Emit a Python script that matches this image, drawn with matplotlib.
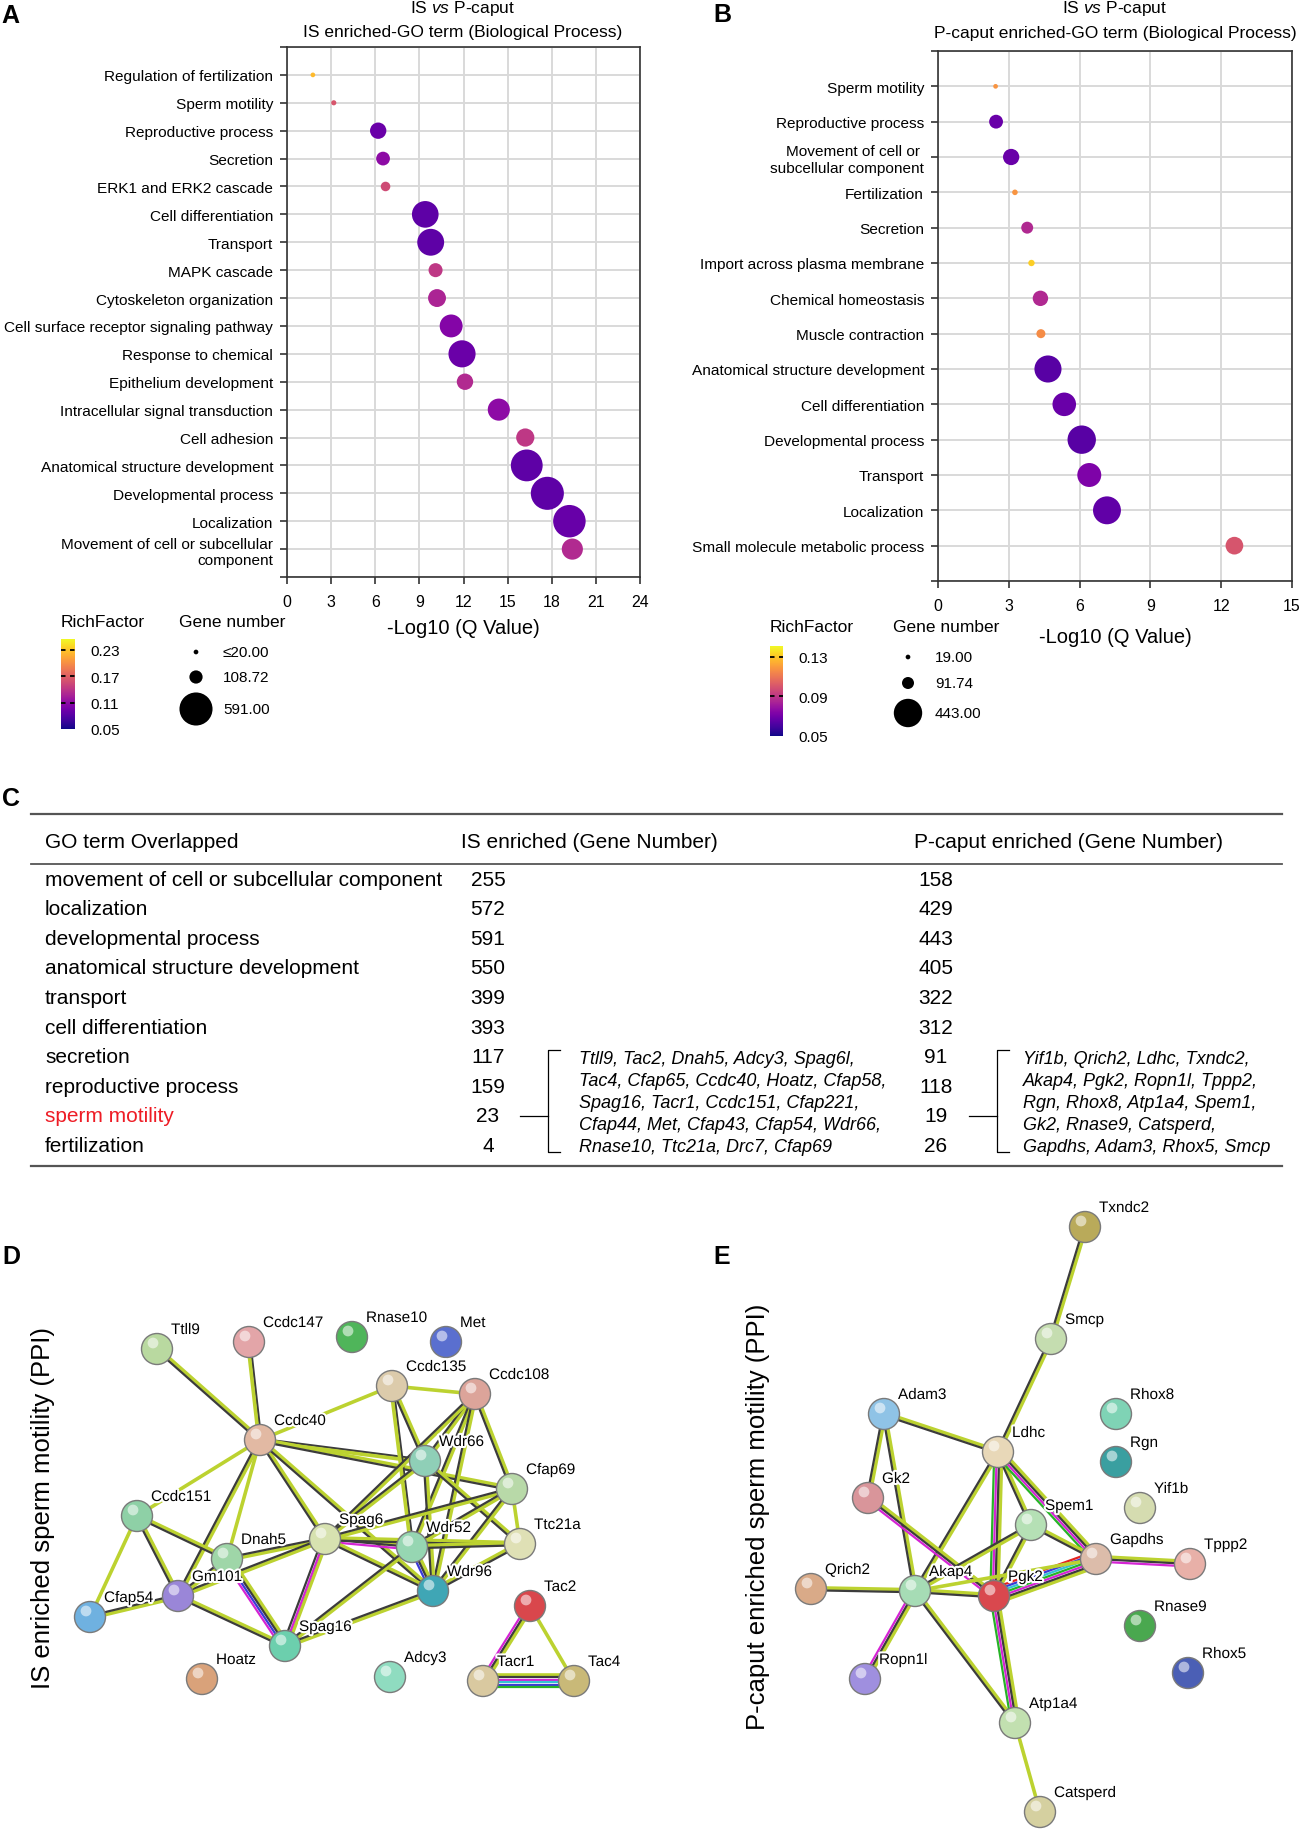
import numpy as np
import matplotlib
matplotlib.use("Agg")
import matplotlib.pyplot as plt
import matplotlib.colors as mcolors
import matplotlib.colorbar as mcolorbar
import matplotlib.patheffects as pe

plt.rcParams['font.family'] = ['Liberation Sans', 'DejaVu Sans']
plt.rcParams['mathtext.fontset'] = 'custom'
plt.rcParams['mathtext.rm'] = 'Liberation Sans'
plt.rcParams['mathtext.it'] = 'Liberation Sans:italic'

W, H = 1299, 1831
DPI = 100

# ---- panel A : IS enriched GO terms
a_terms = ["Regulation of fertilization", "Sperm motility", "Reproductive process", "Secretion",
           "ERK1 and ERK2 cascade", "Cell differentiation", "Transport", "MAPK cascade",
           "Cytoskeleton organization", "Cell surface receptor signaling pathway", "Response to chemical",
           "Epithelium development", "Intracellular signal transduction", "Cell adhesion",
           "Anatomical structure development", "Developmental process", "Localization",
           "Movement of cell or subcellular\ncomponent"]
a_q = [1.76, 3.18, 6.2, 6.53, 6.7, 9.4, 9.77, 10.1, 10.2, 11.16, 11.9, 12.1, 14.4, 16.2, 16.3, 17.7, 19.2, 19.4]
a_genes = [4, 23, 159, 117, 62, 393, 399, 121, 188, 296, 406, 160, 277, 194, 550, 591, 572, 255]
a_rich = [0.224, 0.163, 0.091, 0.11, 0.155, 0.085, 0.085, 0.142, 0.128, 0.105, 0.091, 0.132, 0.11, 0.142,
          0.085, 0.085, 0.09, 0.132]
a_cbar_ticks = [0.05, 0.11, 0.17, 0.23]
a_leg_vals = [20, 108.72, 591.0]
a_leg_labels = ["≤20.00", "108.72", "591.00"]

# ---- panel B : P-caput enriched GO terms
b_terms = ["Sperm motility", "Reproductive process", "Movement of cell or \nsubcellular component",
           "Fertilization", "Secretion", "Import across plasma membrane", "Chemical homeostasis",
           "Muscle contraction", "Anatomical structure development", "Cell differentiation",
           "Developmental process", "Transport", "Localization", "Small molecule metabolic process"]
b_q = [2.44, 2.46, 3.1, 3.26, 3.78, 3.96, 4.34, 4.36, 4.66, 5.35, 6.09, 6.41, 7.16, 12.56]
b_genes = [19, 118, 158, 26, 91, 32, 143, 56, 405, 312, 443, 322, 429, 184]
b_rich = [0.118, 0.068, 0.068, 0.118, 0.086, 0.132, 0.086, 0.116, 0.064, 0.068, 0.064, 0.073, 0.066, 0.100]
b_cbar_ticks = [0.05, 0.09, 0.13]
b_leg_vals = [19, 91.74, 443.0]
b_leg_labels = ["19.00", "91.74", "443.00"]

# ---- panel C : overlapped GO terms table
c_terms = ["movement of cell or subcellular component", "localization", "developmental process",
           "anatomical structure development", "transport", "cell differentiation", "secretion",
           "reproductive process", "sperm motility", "fertilization"]
c_is = [255, 572, 591, 550, 399, 393, 117, 159, 23, 4]
c_pc = [158, 429, 443, 405, 322, 312, 91, 118, 19, 26]
c_is_genes = ["Ttll9, Tac2, Dnah5, Adcy3, Spag6l,",
              "Tac4, Cfap65, Ccdc40, Hoatz, Cfap58,",
              "Spag16, Tacr1, Ccdc151, Cfap221,",
              "Cfap44, Met, Cfap43, Cfap54, Wdr66,",
              "Rnase10, Ttc21a, Drc7, Cfap69"]
c_pc_genes = ["Yif1b, Qrich2, Ldhc, Txndc2,",
              "Akap4, Pgk2, Ropn1l, Tppp2,",
              "Rgn, Rhox8, Atp1a4, Spem1,",
              "Gk2, Rnase9, Catsperd,",
              "Gapdhs, Adam3, Rhox5, Smcp"]

# ---- panel D : IS sperm motility PPI network (layout)
d_names = ["Ttll9", "Ccdc147", "Rnase10", "Met", "Ccdc135", "Ccdc108", "Ccdc40", "Wdr66", "Cfap69",
           "Ccdc151", "Spag6", "Wdr52", "Ttc21a", "Dnah5", "Gm101", "Wdr96", "Tac2", "Cfap54",
           "Spag16", "Hoatz", "Adcy3", "Tacr1", "Tac4"]
d_x = [157, 249, 352, 446, 392, 475, 260, 425, 512, 137, 325, 412, 520, 227, 178, 433, 530, 90, 285, 202, 390, 483, 574]
d_y = [1350, 1343, 1338, 1343, 1387, 1395, 1441, 1462, 1490, 1517, 1540, 1548, 1545, 1560, 1597, 1592, 1607,
       1618, 1647, 1680, 1678, 1682, 1682]
d_cols = ["#b9d9a0", "#e3a5a8", "#4fb55a", "#5a6fcf", "#dccbab", "#dca49a", "#e2b9a3", "#8fcfb7", "#b8d9a8",
          "#8ed0a6", "#d7e2b0", "#96d6b2", "#dfe0b5", "#9fd6a8", "#9a86d8", "#3fa6b5", "#d9474c", "#6fb1e0",
          "#6ccfad", "#d9a27a", "#8fdcc0", "#d9c9a0", "#c9b978"]
d_edges = [("Ttll9", "Ccdc40", "tk"), ("Ccdc147", "Ccdc40", "kt"), ("Ccdc40", "Ccdc135", "t"),
           ("Ccdc135", "Ccdc108", "t"), ("Ccdc40", "Wdr66", "kt"), ("Ccdc40", "Cfap69", "tk"),
           ("Ccdc40", "Ccdc151", "t"), ("Ccdc40", "Dnah5", "t"), ("Ccdc40", "Gm101", "tk"),
           ("Ccdc40", "Spag6", "tk"), ("Ccdc40", "Wdr96", "tk"), ("Ccdc135", "Wdr52", "kt"),
           ("Ccdc135", "Wdr66", "tk"), ("Ccdc108", "Wdr66", "tk"), ("Ccdc108", "Wdr52", "tk"),
           ("Ccdc108", "Wdr96", "tk"), ("Ccdc108", "Cfap69", "tk"), ("Ccdc108", "Spag6", "tk"),
           ("Wdr66", "Ttc21a", "tk"), ("Wdr66", "Wdr96", "tk"), ("Wdr66", "Spag6", "tk"),
           ("Cfap69", "Ttc21a", "t"), ("Cfap69", "Spag6", "tk"), ("Cfap69", "Wdr52", "tk"),
           ("Cfap69", "Wdr96", "tk"), ("Ccdc151", "Dnah5", "tk"), ("Ccdc151", "Gm101", "tk"),
           ("Ccdc151", "Cfap54", "t"), ("Spag6", "Dnah5", "tk"), ("Spag6", "Gm101", "tk"),
           ("Spag6", "Wdr52", "tkm"), ("Spag6", "Wdr96", "tk"), ("Spag6", "Spag16", "tmk"),
           ("Spag6", "Ttc21a", "tk"), ("Dnah5", "Gm101", "tk"), ("Dnah5", "Spag16", "tkbm"),
           ("Gm101", "Cfap54", "tk"), ("Gm101", "Spag16", "tk"), ("Wdr52", "Wdr96", "tkb"),
           ("Wdr52", "Ttc21a", "tk"), ("Wdr52", "Spag16", "tk"), ("Wdr96", "Spag16", "tk"),
           ("Wdr96", "Ttc21a", "tk"), ("Tac2", "Tacr1", "tkm"), ("Tac2", "Tac4", "t"),
           ("Tacr1", "Tac4", "tkmcbg")]

# ---- panel E : P-caput sperm motility PPI network
e_names = ["Txndc2", "Smcp", "Adam3", "Ldhc", "Rhox8", "Rgn", "Gk2", "Yif1b", "Spem1", "Gapdhs", "Tppp2",
           "Qrich2", "Akap4", "Pgk2", "Rnase9", "Ropn1l", "Rhox5", "Atp1a4", "Catsperd"]
e_x = [1085, 1051, 884, 998, 1116, 1116, 868, 1140, 1031, 1096, 1190, 811, 915, 994, 1140, 865, 1188, 1015, 1040]
e_y = [1228, 1340, 1415, 1453, 1415, 1463, 1499, 1509, 1526, 1560, 1565, 1590, 1592, 1597, 1627, 1680, 1674,
       1724, 1813]
e_cols = ["#b9aa5a", "#c5ddb0", "#8fc3e6", "#e8d8b8", "#7fd3b5", "#3a9fa0", "#d9959a", "#d5dcb0", "#b5e0b5",
          "#dcbcaa", "#e8b0a8", "#d9aa88", "#a6dcb5", "#d9484e", "#4aa84f", "#9f8fdf", "#4b5fb5", "#c2e0b0",
          "#d5d0a0"]
e_edges = [("Txndc2", "Smcp", "tk"), ("Smcp", "Ldhc", "tk"), ("Adam3", "Ldhc", "tk"), ("Adam3", "Gk2", "tk"),
           ("Adam3", "Akap4", "tk"), ("Ldhc", "Akap4", "tk"), ("Ldhc", "Pgk2", "tkmg"), ("Ldhc", "Spem1", "tk"),
           ("Ldhc", "Gapdhs", "tkmg"), ("Gk2", "Pgk2", "tkm"), ("Spem1", "Akap4", "tk"),
           ("Spem1", "Gapdhs", "tk"), ("Spem1", "Pgk2", "tk"), ("Gapdhs", "Pgk2", "tkmgcbr"),
           ("Gapdhs", "Tppp2", "tkm"), ("Gapdhs", "Akap4", "t"), ("Qrich2", "Akap4", "tk"),
           ("Akap4", "Pgk2", "tk"), ("Akap4", "Ropn1l", "tkm"), ("Akap4", "Atp1a4", "tk"),
           ("Pgk2", "Atp1a4", "tkmg"), ("Atp1a4", "Catsperd", "t")]

edge_colors = {'t': '#bcd230', 'k': '#3c3c3c', 'm': '#d424d4', 'c': '#33c4d4',
               'b': '#3b3bd6', 'g': '#27b327', 'r': '#e3221f'}

fig = plt.figure(figsize=(W / DPI, H / DPI), dpi=DPI)


def px_axes(x0, y0, x1, y1):
    return fig.add_axes([x0 / W, 1 - y1 / H, (x1 - x0) / W, (y1 - y0) / H])


def marker_size(n):
    d = 1.43 * np.sqrt(np.maximum(np.asarray(n, float), 20)) - 1.7
    return (d * 72 / DPI) ** 2


def bubble(ax, terms, q, genes, rich, norm, xmax, labelpad):
    n = len(terms)
    y = np.arange(n, 0, -1)
    ax.scatter(q, y, s=marker_size(genes), c=rich, cmap='plasma', norm=norm,
               edgecolors='none', zorder=3, clip_on=False)
    ax.set_xlim(0, xmax)
    ax.set_ylim(0, n + 1)
    ax.set_xticks(np.arange(0, xmax + 1, 3))
    ax.set_yticks(list(y) + [0, n + 1])
    ax.set_yticklabels(terms + ['', ''])
    ax.grid(True, color='#d9d9d9', lw=1.4)
    ax.set_axisbelow(True)
    for s in ax.spines.values():
        s.set_color('#333333')
        s.set_linewidth(1.2)
    ax.tick_params(length=5, width=1.2, color='#333333', labelsize=11.1)
    ax.tick_params(axis='y', pad=5)
    ax.tick_params(axis='x', pad=7, labelsize=11.4)
    ax.set_xlabel('-Log10 (Q Value)', fontsize=14.5, labelpad=labelpad)


def legend(ax_o, cbox, norm, ticks, x_title, x_circ, y_title, y_circ, vals, labels):
    cax = px_axes(*cbox)
    cb = mcolorbar.ColorbarBase(cax, cmap=plt.get_cmap('plasma'), norm=norm, orientation='vertical')
    cb.outline.set_visible(False)
    cb.set_ticks(ticks)
    cb.set_ticklabels(['%.2f' % t for t in ticks])
    cax.tick_params(length=0, pad=11, labelsize=11)
    for t in ticks[1:]:
        cax.axhline(t, color='black', ls=(0, (2.5, 2.5)), lw=1.3)
    ax_o.text(cbox[0], y_title, 'RichFactor', fontsize=12.5, va='center', ha='left')
    ax_o.text(x_title, y_title, 'Gene number', fontsize=12.5, va='center', ha='left')
    ax_o.scatter([x_circ] * len(vals), y_circ, s=marker_size(vals), color='black', edgecolors='none')
    for yy, lab in zip(y_circ, labels):
        ax_o.text(x_circ + 27, yy, lab, fontsize=11, va='center', ha='left')


def network(ax_o, names, xs, ys, cols, edges):
    pos = {n: (x, y) for n, x, y in zip(names, xs, ys)}
    step = 2.5
    for a, b, kinds in edges:
        (x0, y0), (x1, y1) = pos[a], pos[b]
        L = np.hypot(x1 - x0, y1 - y0)
        nx, ny = -(y1 - y0) / L, (x1 - x0) / L
        for j, k in enumerate(kinds):
            off = (j - (len(kinds) - 1) / 2) * step
            ax_o.plot([x0 + nx * off, x1 + nx * off], [y0 + ny * off, y1 + ny * off],
                      color=edge_colors[k], lw=2.6 if k == 't' else 1.6,
                      solid_capstyle='butt', zorder=2)
    xs = np.array(xs, float)
    ys = np.array(ys, float)
    ax_o.scatter(xs, ys, s=(31 * 72 / DPI) ** 2, c=cols, edgecolors='#7a7a7a', linewidths=1.0, zorder=3)
    ax_o.scatter(xs - 4, ys - 6, s=60, color='white', alpha=0.55, edgecolors='none', zorder=4)
    for n, x, y in zip(names, xs, ys):
        ax_o.text(x + 14, y - 19, n, fontsize=11, ha='left', va='center', zorder=5,
                  path_effects=[pe.withStroke(linewidth=3, foreground='white')])


# ---- panels A & B
norm_a = mcolors.Normalize(0.05, 0.255)
norm_b = mcolors.Normalize(0.05, 0.141)
ax_a = px_axes(287, 48, 640, 578)
bubble(ax_a, a_terms, a_q, a_genes, a_rich, norm_a, 24, 6.5)
ax_b = px_axes(938, 52, 1292, 582)
bubble(ax_b, b_terms, b_q, b_genes, b_rich, norm_b, 15, 10.5)

ax_o = fig.add_axes([0, 0, 1, 1])
ax_o.set_xlim(0, W)
ax_o.set_ylim(H, 0)
ax_o.axis('off')

ax_o.text(463, 8, r'IS $\it{vs}$ P-caput', fontsize=12.5, ha='center', va='center')
ax_o.text(463, 32, 'IS enriched-GO term (Biological Process)', fontsize=12.5, ha='center', va='center')
ax_o.text(1115, 8, r'IS $\it{vs}$ P-caput', fontsize=12.5, ha='center', va='center')
ax_o.text(1115, 33, 'P-caput enriched-GO term (Biological Process)', fontsize=12.5, ha='center', va='center')

legend(ax_o, (61, 640, 75, 730), norm_a, a_cbar_ticks, 179, 196, 622, [653, 678, 710], a_leg_vals, a_leg_labels)
legend(ax_o, (770, 647, 783, 737), norm_b, b_cbar_ticks, 893, 908, 627, [658, 684, 714], b_leg_vals, b_leg_labels)

# ---- panel C table
ax_o.plot([31, 1282], [815, 815], color='#555555', lw=1.6)
ax_o.plot([31, 1282], [865, 865], color='#555555', lw=1.3)
ax_o.plot([31, 1282], [1167, 1167], color='#555555', lw=1.6)
ax_o.text(45, 843, 'GO term Overlapped', fontsize=15, va='center')
ax_o.text(461, 843, 'IS enriched (Gene Number)', fontsize=15, va='center')
ax_o.text(914, 843, 'P-caput enriched (Gene Number)', fontsize=15, va='center')
for i, (t, a, b) in enumerate(zip(c_terms, c_is, c_pc)):
    yy = 880 + i * 29.6
    ax_o.text(45, yy, t, fontsize=15, va='center', color='#ee1c25' if t == 'sperm motility' else 'black')
    ax_o.text(488, yy, str(a), fontsize=15, va='center', ha='center')
    ax_o.text(936, yy, str(b), fontsize=15, va='center', ha='center')
for i, (g1, g2) in enumerate(zip(c_is_genes, c_pc_genes)):
    yy = 1059 + i * 22
    ax_o.text(579, yy, g1, fontsize=13, style='italic', va='center')
    ax_o.text(1023, yy, g2, fontsize=13, style='italic', va='center')
for xh, xv in [(520, 548), (969, 997)]:
    ax_o.plot([xh, xv], [1117, 1117], color='black', lw=0.9)
    ax_o.plot([xv + 12, xv, xv, xv + 12], [1051, 1051, 1153, 1153], color='black', lw=0.9)

# ---- panels D & E
network(ax_o, d_names, d_x, d_y, d_cols, d_edges)
network(ax_o, e_names, e_x, e_y, e_cols, e_edges)
ax_o.text(43, 1508, 'IS enriched sperm motility (PPI)', fontsize=18.5, rotation=90, ha='center', va='center')
ax_o.text(758, 1517, 'P-caput enriched sperm motility (PPI)', fontsize=18.5, rotation=90, ha='center', va='center')

for lab, x, y in [('A', 1, 16), ('B', 713, 15), ('C', 2, 799), ('D', 2, 1257), ('E', 713, 1257)]:
    ax_o.text(x, y, lab, fontsize=18, fontweight='bold', ha='left', va='center')

fig.savefig('out.png', dpi=DPI)
